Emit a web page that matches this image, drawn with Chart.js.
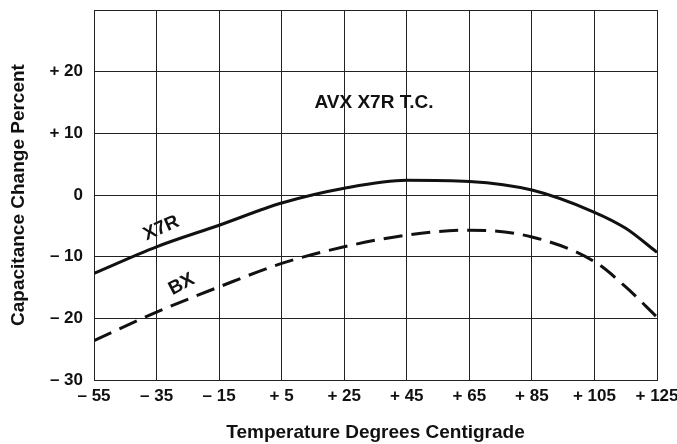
<!DOCTYPE html>
<html>
<head>
<meta charset="utf-8">
<script src="https://cdn.jsdelivr.net/npm/chart.js@4"></script>
<style>
  html, body { margin: 0; padding: 0; background: #fff; }
  #wrap { width: 677px; height: 444px; }
</style>
</head>
<body>
<div id="wrap"><canvas id="tcChart"></canvas></div>
<script>
// temperature (deg C) vs capacitance change (%)
const temps = [-55, -35, -15, 5, 25, 45, 65, 85, 105, 115, 125];
const x7r = [-12.7, -8.4, -4.9, -1.3, 1.1, 2.4, 2.2, 0.8, -2.8, -5.4, -9.3];
const bx = [-23.6, -19.0, -14.9, -11.1, -8.4, -6.5, -5.7, -6.8, -10.8, -14.9, -19.8];

const xTickLabels = ["– 55", "– 35", "– 15", "+ 5", "+ 25", "+ 45", "+ 65", "+ 85", "+ 105", "+ 125"];
const yTickLabels = ["– 30", "– 20", "– 10", "0", "+ 10", "+ 20", ""];

// text placed on the chart, in data units
const notes = [
    { text: "X7R", x: -33.5, y: -5.4, angle: -24 },
    { text: "BX", x: -27, y: -14.5, angle: -28 },
    { text: "AVX X7R T.C.", x: 34.5, y: 15, angle: 0 }
];

function toPoints(vals) {
    return temps.map((t, i) => ({ x: t, y: vals[i] }));
}

const FONT = "'Liberation Sans', Arial, sans-serif";

const notesPlugin = {
    id: "notes",
    afterDatasetsDraw(chart) {
        const ctx = chart.ctx;
        const xs = chart.scales.x, ys = chart.scales.y;
        ctx.save();
        ctx.fillStyle = "#111";
        ctx.font = "bold 19px " + FONT;
        ctx.textAlign = "center";
        ctx.textBaseline = "middle";
        notes.forEach(n => {
            ctx.save();
            ctx.translate(xs.getPixelForValue(n.x), ys.getPixelForValue(n.y));
            ctx.rotate(n.angle * Math.PI / 180);
            ctx.fillText(n.text, 0, 0);
            ctx.restore();
        });
        ctx.restore();
    }
};

new Chart(document.getElementById("tcChart"), {
    type: "line",
    data: {
        datasets: [{
            label: "X7R",
            data: toPoints(x7r),
            borderColor: "#111",
            borderWidth: 3,
            pointRadius: 0,
            fill: false,
            cubicInterpolationMode: "monotone"
        }, {
            label: "BX",
            data: toPoints(bx),
            borderColor: "#111",
            borderWidth: 3,
            borderDash: [19, 9],
            pointRadius: 0,
            fill: false,
            cubicInterpolationMode: "monotone"
        }]
    },
    options: {
        responsive: true,
        maintainAspectRatio: false,
        animation: false,
        layout: { padding: { left: 0, right: 20, top: 10, bottom: 0 } },
        plugins: {
            legend: { display: false },
            tooltip: { enabled: false }
        },
        scales: {
            x: {
                type: "linear",
                min: -55,
                max: 125,
                afterBuildTicks: s => { s.ticks = temps.filter(t => t !== 115).map(v => ({ value: v })); },
                afterFit: s => { s.height = 64; s.paddingLeft = 0; s.paddingRight = 0; },
                ticks: {
                    color: "#111",
                    padding: 6,
                    maxRotation: 0,
                    autoSkip: false,
                    font: { family: FONT, size: 17, weight: "bold" },
                    callback: (v, i) => xTickLabels[i]
                },
                grid: { color: "#222", lineWidth: 1, drawTicks: false },
                border: { color: "#222", width: 1 },
                title: {
                    display: true,
                    text: "Temperature Degrees Centigrade",
                    color: "#111",
                    font: { family: FONT, size: 19, weight: "bold" },
                    padding: { top: 11, bottom: 0 }
                }
            },
            y: {
                min: -30,
                max: 30,
                ticks: {
                    stepSize: 10,
                    color: "#111",
                    padding: 11,
                    font: { family: FONT, size: 17, weight: "bold" },
                    callback: (v, i) => yTickLabels[i]
                },
                afterFit: s => { s.width = 94; s.paddingTop = 0; s.paddingBottom = 0; },
                grid: { color: "#222", lineWidth: 1, drawTicks: false },
                border: { color: "#222", width: 1 },
                title: {
                    display: true,
                    text: "Capacitance Change Percent",
                    color: "#111",
                    font: { family: FONT, size: 19, weight: "bold" },
                    padding: { top: 7, bottom: 4 }
                }
            }
        }
    },
    plugins: [notesPlugin]
});
</script>
</body>
</html>
